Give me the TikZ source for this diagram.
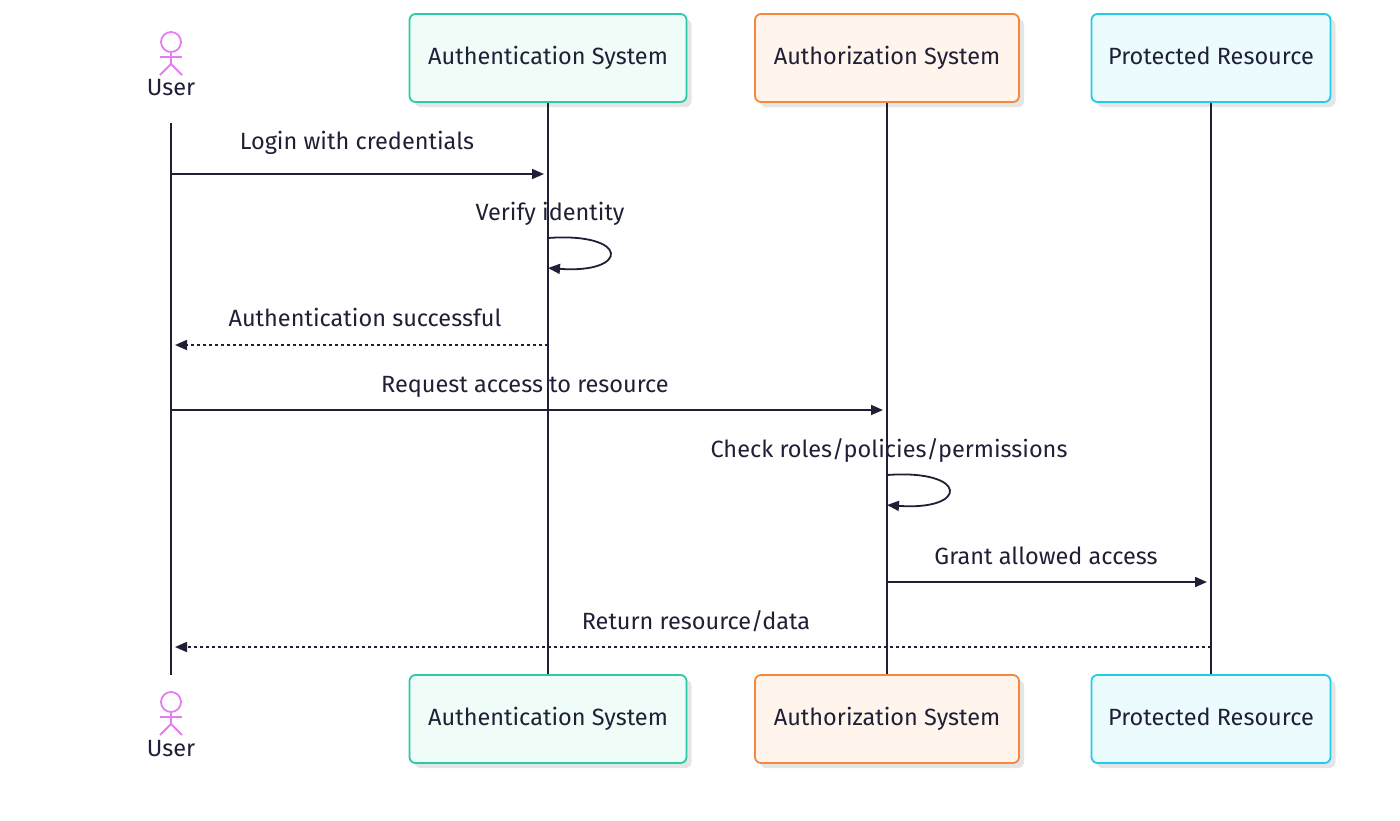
\documentclass[tikz,border=0pt]{standalone}
\usepackage{fontspec}
\setmainfont{Fira Sans}
\usetikzlibrary{arrows.meta,shadows}
\definecolor{ink}{HTML}{1F1F36}
\definecolor{tealB}{HTML}{2EC9A8}\definecolor{tealF}{HTML}{EFFCF8}
\definecolor{orB}{HTML}{F5883A}\definecolor{orF}{HTML}{FFF5EC}
\definecolor{cyB}{HTML}{22CBE8}\definecolor{cyF}{HTML}{ECFCFE}
\definecolor{act}{HTML}{E67CF0}
\tikzset{
 lbl/.style={font=\fontsize{23.5}{28}\selectfont, text=ink, inner sep=0pt, text height=17pt, text depth=5pt},
 part/.style={draw=#1B, fill=#1F, line width=1.8pt, rounded corners=6pt, minimum height=88pt, font=\fontsize{23.5}{28}\selectfont, text=ink, text height=17pt, text depth=5pt,
   general shadow={fill=black!10, shadow xshift=5pt, shadow yshift=-5pt}},
 life/.style={draw=ink, line width=1.8pt},
 msg/.style={draw=ink, line width=1.8pt, -{Triangle[length=12pt,width=10pt]}},
 rmsg/.style={msg, dash pattern=on 3pt off 3pt},
 actor/.style={draw=act, line width=1.8pt}
}
\begin{document}
\begin{tikzpicture}[x=1pt,y=-1pt]
\useasboundingbox (0,0) rectangle (1400,820);
% participants
\node[part=teal, minimum width=277pt] (atop) at (548,58) {Authentication System};
\node[part=teal, minimum width=277pt] (abot) at (548,719) {Authentication System};
\node[part=or, minimum width=264pt] (ztop) at (887,58) {Authorization System};
\node[part=or, minimum width=264pt] (zbot) at (887,719) {Authorization System};
\node[part=cy, minimum width=239pt] (ptop) at (1211,58) {Protected Resource};
\node[part=cy, minimum width=239pt] (pbot) at (1211,719) {Protected Resource};
% actors
\foreach \y in {42, 702}{
  \draw[actor] (171,\y) circle (10);
  \draw[actor] (171,\y+10) -- (171,\y+22);
  \draw[actor] (160,\y+15) -- (182,\y+15);
  \draw[actor] (160,\y+33) -- (171,\y+22) -- (182,\y+33);
}
\node[lbl] (utop) at (171,89) {User};
\node[lbl] (ubot) at (171,750) {User};
\coordinate (uls) at (171,123); \coordinate (ule) at (171,675);
% lifelines
\draw[life] (uls) -- (ule);
\draw[life] (atop.south) -- (abot.north);
\draw[life] (ztop.south) -- (zbot.north);
\draw[life] (ptop.south) -- (pbot.north);
% messages
\coordinate (u1) at (171,174); \coordinate (a1) at (544,174);
\draw[msg] (u1) -- (a1);
\node[lbl] (m1) at (357,143) {Login with credentials};
\coordinate (a2s) at (548,238); \coordinate (a2e) at (548,268);
\draw[msg] (a2s) .. controls (630,232) and (630,274) .. (a2e);
\node[lbl] (m2) at (550,214) {Verify identity};
\coordinate (a3) at (548,345); \coordinate (u3) at (175,345);
\draw[rmsg] (a3) -- (u3);
\node[lbl] (m3) at (365,320) {Authentication successful};
\coordinate (u4) at (171,410); \coordinate (z4) at (883,410);
\draw[msg] (u4) -- (z4);
\node[lbl] (m4) at (525,386) {Request access to resource};
\coordinate (z5s) at (887,475); \coordinate (z5e) at (887,505);
\draw[msg] (z5s) .. controls (969,469) and (969,511) .. (z5e);
\node[lbl] (m5) at (889,451) {Check roles/policies/permissions};
\coordinate (z6) at (887,582); \coordinate (p6) at (1207,582);
\draw[msg] (z6) -- (p6);
\node[lbl] (m6) at (1046,558) {Grant allowed access};
\coordinate (p7) at (1211,647); \coordinate (u7) at (175,647);
\draw[rmsg] (p7) -- (u7);
\node[lbl] (m7) at (696,623) {Return resource/data};
\end{tikzpicture}
\end{document}
